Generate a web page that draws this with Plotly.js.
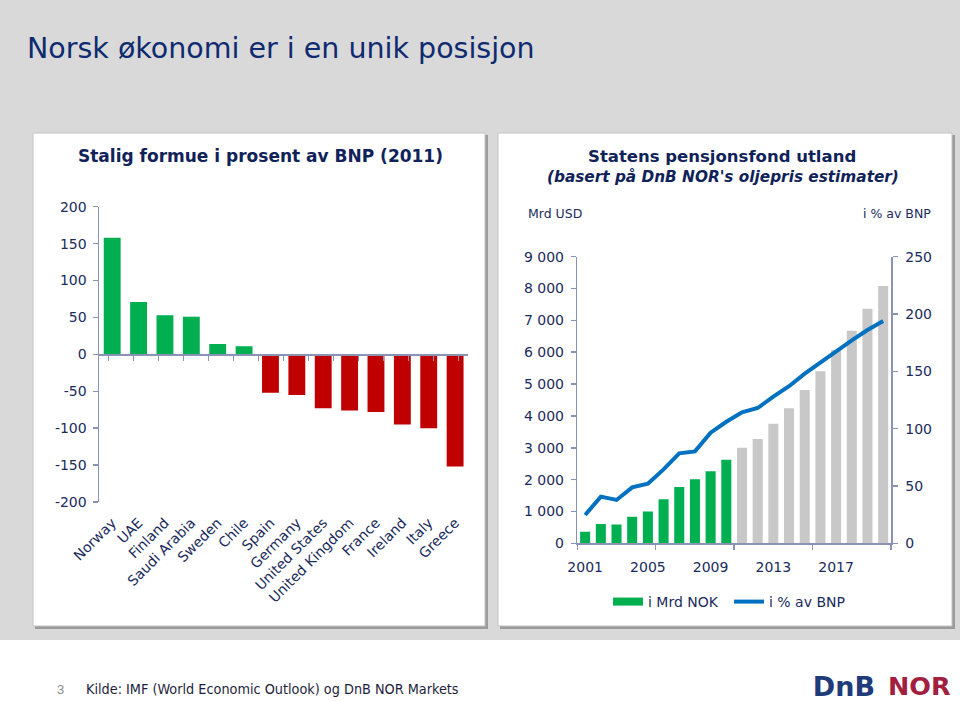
<!DOCTYPE html>
<html>
<head>
<meta charset="utf-8">
<script src="https://cdn.plot.ly/plotly-3.0.1.min.js"></script>
<style>
  html, body { margin: 0; padding: 0; background: #fff; }
  #chart { width: 960px; height: 701px; }
</style>
</head>
<body>
<div id="chart"></div>
<script>
// ---------- DATA ----------
const countries = ['Norway', 'UAE', 'Finland', 'Saudi Arabia', 'Sweden', 'Chile', 'Spain',
  'Germany', 'United States', 'United Kingdom', 'France', 'Ireland', 'Italy', 'Greece'];
const wealthPct = [158, 71, 53, 51, 14, 11, -52, -55, -73, -76, -78, -95, -100, -152];
const wealthTicks = [200, 150, 100, 50, 0, -50, -100, -150, -200];

const years = [2001, 2002, 2003, 2004, 2005, 2006, 2007, 2008, 2009, 2010,
  2011, 2012, 2013, 2014, 2015, 2016, 2017, 2018, 2019, 2020];
const fundValues = [365, 605, 590, 836, 995, 1380, 1768, 2010, 2265, 2626,
  3003, 3275, 3756, 4243, 4812, 5405, 6069, 6675, 7366, 8079];
const pctGDP = [24.7, 40.7, 37.8, 48.8, 52, 64.5, 78.5, 80.2, 96.5, 106,
  114.3, 118, 128, 137, 148, 158, 168, 177, 186, 194];
const historicCount = 10;
const yearLabels = [2001, 2005, 2009, 2013, 2017];
const fundTicks = [0, 1000, 2000, 3000, 4000, 5000, 6000, 7000, 8000, 9000];
const pctTicks = [0, 50, 100, 150, 200, 250];

// ---------- HELPERS ----------
const W = 960, H = 701;
const px = x => x / W;
const py = y => (H - y) / H;
const NAVY = '#1a2b5c';
const TITLE = '#0f2259';
const AXIS = '#8a93b5';
const GREEN = '#00b050';
const RED = '#c00000';
const GREY = '#c8c8c8';
const BLUE = '#0070c0';
const FONT = 'DejaVu Sans, Verdana, sans-serif';
const fmtThousands = v => String(v).replace(/\B(?=(\d{3})+(?!\d))/g, ' ');

// left plot area
const L = {x0: 99, x1: 468.3, y0: 206.7, y1: 502};
// right plot area
const R = {x0: 577.3, x1: 891, y0: 256.7, y1: 543.3};

const histYears = years.slice(0, historicCount);
const histVals = fundValues.slice(0, historicCount);
const projYears = years.slice(historicCount);
const projVals = fundValues.slice(historicCount);
const yearStep = 5;
const yearTickMarks = years.filter((y, i) => i % yearStep === 0).map(y => y - 0.5)
  .concat([years[years.length - 1] + 0.5]);

const traces = [
  {
    type: 'bar', x: countries, y: wealthPct, xaxis: 'x', yaxis: 'y',
    marker: {color: wealthPct.map(v => v >= 0 ? GREEN : RED)},
    showlegend: false, hoverinfo: 'x+y'
  },
  {
    type: 'scatter', mode: 'markers', x: countries, y: wealthPct, xaxis: 'x2', yaxis: 'y',
    marker: {opacity: 0}, showlegend: false, hoverinfo: 'skip'
  },
  {
    type: 'bar', x: histYears, y: histVals, xaxis: 'x3', yaxis: 'y3',
    marker: {color: GREEN}, showlegend: false, name: 'i Mrd NOK'
  },
  {
    type: 'bar', x: projYears, y: projVals, xaxis: 'x3', yaxis: 'y3',
    marker: {color: GREY}, showlegend: false, name: 'i Mrd NOK'
  },
  {
    type: 'scatter', mode: 'lines', x: [null], y: [null], xaxis: 'x3', yaxis: 'y3',
    line: {color: GREEN, width: 8}, name: 'i Mrd NOK', hoverinfo: 'skip'
  },
  {
    type: 'scatter', mode: 'lines', x: years, y: pctGDP, xaxis: 'x4', yaxis: 'y4',
    line: {color: BLUE, width: 4}, name: 'i % av BNP'
  }
];

const tickFont = {family: FONT, size: 14, color: NAVY};

const layout = {
  width: W, height: H,
  margin: {l: 0, r: 0, t: 0, b: 0},
  paper_bgcolor: '#ffffff',
  plot_bgcolor: 'rgba(0,0,0,0)',
  barmode: 'overlay',
  bargap: 0.36,
  showlegend: true,
  legend: {
    orientation: 'h', x: px(608), xanchor: 'left', y: py(602), yanchor: 'middle',
    font: {family: FONT, size: 14, color: NAVY}, bgcolor: 'rgba(0,0,0,0)',
    traceorder: 'normal', entrywidth: 76
  },
  xaxis: {
    domain: [px(L.x0), px(L.x1)], anchor: 'y', type: 'category',
    showline: false, ticks: '', tickangle: -45, tickfont: tickFont, ticklabelstandoff: 9,
    showgrid: false, zeroline: false, fixedrange: true
  },
  xaxis2: {
    domain: [px(L.x0), px(L.x1)], overlaying: 'x', anchor: 'free',
    position: (py(L.y1) + py(L.y0)) / 2, type: 'category',
    showline: true, linecolor: AXIS, linewidth: 1.5,
    ticks: 'outside', tickson: 'boundaries', ticklen: 5, tickcolor: AXIS, tickwidth: 1.5,
    showticklabels: false, showgrid: false, zeroline: false, fixedrange: true
  },
  yaxis: {
    domain: [py(L.y1), py(L.y0)], anchor: 'x', range: [-200, 200],
    tickvals: wealthTicks, ticktext: wealthTicks.map(String),
    showline: true, linecolor: AXIS, linewidth: 1.5,
    ticks: 'outside', ticklen: 5, tickcolor: AXIS, tickwidth: 1.5, ticklabelstandoff: 3,
    tickfont: tickFont, showgrid: false, zeroline: false, fixedrange: true
  },
  xaxis3: {
    domain: [px(R.x0), px(R.x1)], anchor: 'y3',
    range: [years[0] - 0.5, years[years.length - 1] + 0.5],
    tickvals: yearLabels, ticktext: yearLabels.map(String), ticks: '', ticklabelstandoff: 10,
    showline: true, linecolor: AXIS, linewidth: 1.5,
    tickfont: {family: FONT, size: 14, color: NAVY},
    showgrid: false, zeroline: false, fixedrange: true
  },
  xaxis4: {
    domain: [px(R.x0), px(R.x1)], anchor: 'y3', overlaying: 'x3',
    range: [years[0] - 0.5, years[years.length - 1] + 0.5],
    tickvals: yearTickMarks, showticklabels: false,
    ticks: 'outside', ticklen: 5, tickcolor: AXIS, tickwidth: 1.5,
    showline: true, linecolor: AXIS, linewidth: 1.5,
    showgrid: false, zeroline: false, fixedrange: true
  },
  yaxis3: {
    domain: [py(R.y1), py(R.y0)], anchor: 'x3', range: [0, 9000],
    tickvals: fundTicks, ticktext: fundTicks.map(fmtThousands),
    showline: true, linecolor: AXIS, linewidth: 1.5,
    ticks: 'outside', ticklen: 5, tickcolor: AXIS, tickwidth: 1.5, ticklabelstandoff: 4,
    tickfont: tickFont, showgrid: false, zeroline: false, fixedrange: true
  },
  yaxis4: {
    domain: [py(R.y1), py(R.y0)], anchor: 'x3', overlaying: 'y3', side: 'right',
    range: [0, 250], tickvals: pctTicks, ticktext: pctTicks.map(String),
    showline: true, linecolor: AXIS, linewidth: 1.5,
    ticks: 'outside', ticklen: 5, tickcolor: AXIS, tickwidth: 1.5, ticklabelstandoff: 5,
    tickfont: tickFont, showgrid: false, zeroline: false, fixedrange: true
  },
  shapes: [
    // slide background
    {type: 'rect', xref: 'paper', yref: 'paper', x0: 0, x1: 1, y0: py(640), y1: 1,
      fillcolor: '#d9d9d9', line: {width: 0}, layer: 'below'},
    // left panel shadow + panel
    {type: 'rect', xref: 'paper', yref: 'paper', x0: px(35), x1: px(488), y0: py(629), y1: py(135),
      fillcolor: '#9c9c9c', line: {width: 0}, layer: 'below'},
    {type: 'rect', xref: 'paper', yref: 'paper', x0: px(33), x1: px(485), y0: py(626), y1: py(133),
      fillcolor: '#ffffff', line: {color: '#c4c4c4', width: 1}, layer: 'below'},
    // right panel shadow + panel
    {type: 'rect', xref: 'paper', yref: 'paper', x0: px(500), x1: px(955), y0: py(629), y1: py(135),
      fillcolor: '#9c9c9c', line: {width: 0}, layer: 'below'},
    {type: 'rect', xref: 'paper', yref: 'paper', x0: px(498), x1: px(952), y0: py(626), y1: py(133),
      fillcolor: '#ffffff', line: {color: '#c4c4c4', width: 1}, layer: 'below'}
  ],
  annotations: [
    {text: 'Norsk økonomi er i en unik posisjon', xref: 'paper', yref: 'paper',
      x: px(25), y: py(48), xanchor: 'left', yanchor: 'middle', showarrow: false,
      font: {family: FONT, size: 28.5, color: '#0e2a70'}},
    {text: '<b>Stalig formue i prosent av BNP (2011)</b>', xref: 'paper', yref: 'paper',
      x: px(260), y: py(156), xanchor: 'center', yanchor: 'middle', showarrow: false,
      font: {family: FONT, size: 17, color: TITLE}},
    {text: '<b>Statens pensjonsfond utland</b>', xref: 'paper', yref: 'paper',
      x: px(722), y: py(156), xanchor: 'center', yanchor: 'middle', showarrow: false,
      font: {family: FONT, size: 16.5, color: TITLE}},
    {text: '<b><i>(basert på DnB NOR\'s oljepris estimater)</i></b>', xref: 'paper', yref: 'paper',
      x: px(723), y: py(177), xanchor: 'center', yanchor: 'middle', showarrow: false,
      font: {family: FONT, size: 15.3, color: TITLE}},
    {text: 'Mrd USD', xref: 'paper', yref: 'paper',
      x: px(526), y: py(213), xanchor: 'left', yanchor: 'middle', showarrow: false,
      font: {family: FONT, size: 12.5, color: NAVY}},
    {text: 'i % av BNP', xref: 'paper', yref: 'paper',
      x: px(933), y: py(213), xanchor: 'right', yanchor: 'middle', showarrow: false,
      font: {family: FONT, size: 12.5, color: NAVY}},
    {text: '3', xref: 'paper', yref: 'paper',
      x: px(55), y: py(689), xanchor: 'left', yanchor: 'middle', showarrow: false,
      font: {family: 'Liberation Sans, Arial, sans-serif', size: 13, color: '#8c8c8c'}},
    {text: 'Kilde: IMF (World Economic Outlook) og DnB NOR Markets', xref: 'paper', yref: 'paper',
      x: px(84), y: py(689), xanchor: 'left', yanchor: 'middle', showarrow: false,
      font: {family: 'DejaVu Sans Condensed, Liberation Sans, sans-serif', size: 14.3, color: '#1e1e3c'}},
    {text: 'DnB', xref: 'paper', yref: 'paper',
      x: px(877), y: py(686), xanchor: 'right', yanchor: 'middle', showarrow: false,
      width: 76, height: 36, align: 'right',
      font: {family: 'DejaVu Sans, sans-serif', size: 27, weight: 'bold', color: '#1f3b7a'}},
    {text: 'NOR', xref: 'paper', yref: 'paper',
      x: px(886), y: py(686), xanchor: 'left', yanchor: 'middle', showarrow: false,
      width: 66, height: 36, align: 'left',
      font: {family: 'DejaVu Sans, sans-serif', size: 25.5, weight: 'bold', color: '#a1203f'}}
  ]
};

Plotly.newPlot('chart', traces, layout, {displayModeBar: false, staticPlot: true});
</script>
</body>
</html>
